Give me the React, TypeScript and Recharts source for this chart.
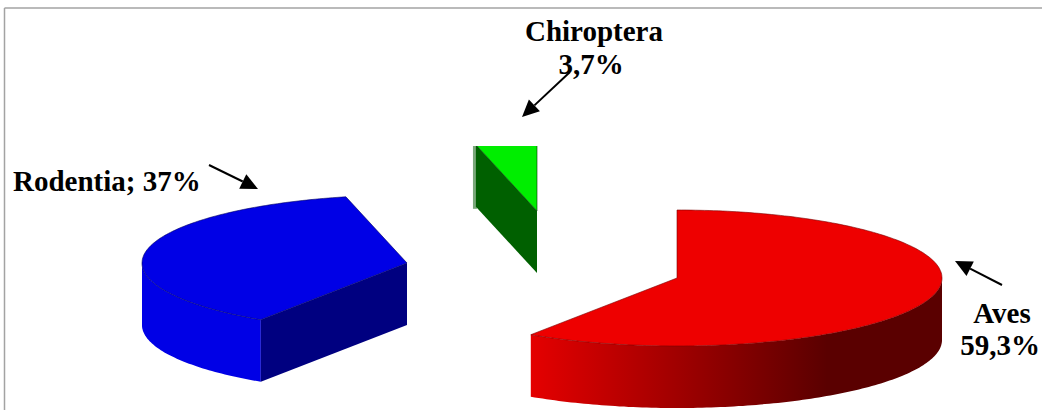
import React from "react";
import { PieChart, Pie } from "recharts";

const categories = ["Aves", "Rodentia", "Chiroptera"];
const values = [59.3, 37, 3.7];

// Exploded-slice offsets, from the common pie centre
const offsetX = [140, -130, 0];
const offsetY = [15, 0, -52];

const topColors = ["#ee0000", "#0000e6", "#00ee00"];
const wallColors = ["url(#avesWall)", "#0000e6", "#006000"];
const cutColors = ["#800000", "#000080", "#006000"];
const edgeColors = ["#7a0000", "#000060", "#003000"];

const rows = categories.map((name, i) => ({ name, value: values[i], index: i }));

const SQUASH = 68 / 265;
const DEPTH = 62;

const FONT = "'Liberation Serif', 'Times New Roman', serif";

const labelLines = [
  { text: "Rodentia; 37%", x: 13, y: 191, anchor: "start" },
  { text: "Chiroptera", x: 594, y: 41, anchor: "middle" },
  { text: "3,7%", x: 591, y: 74, anchor: "middle" },
  { text: "Aves", x: 1002, y: 323, anchor: "middle" },
  { text: "59,3%", x: 1000, y: 355, anchor: "middle" },
];

const arrows = [
  { x1: 209, y1: 165, x2: 258, y2: 189 },
  { x1: 570, y1: 72, x2: 522, y2: 117 },
  { x1: 1002, y1: 285, x2: 955, y2: 261 },
];

function ptsToPath(pts: number[][]) {
  return "M" + pts.map((p) => `${p[0].toFixed(1)},${p[1].toFixed(1)}`).join("L") + "Z";
}

function Slice3D(props: any) {
  const { cx, cy, outerRadius, startAngle, endAngle, payload } = props;
  const i: number = payload?.index ?? props.index ?? 0;
  const ox = cx + offsetX[i];
  const oy = cy + offsetY[i];
  const at = (deg: number, drop = 0) => {
    const a = (deg * Math.PI) / 180;
    return [ox + outerRadius * Math.cos(a), oy - outerRadius * SQUASH * Math.sin(a) + drop];
  };
  const n = Math.max(2, Math.ceil(Math.abs(endAngle - startAngle)));
  const samples: number[] = [];
  for (let k = 0; k <= n; k++) samples.push(startAngle + ((endAngle - startAngle) * k) / n);

  const top = [[ox, oy], ...samples.map((d) => at(d))];
  const front = samples.filter((d) => Math.sin((d * Math.PI) / 180) <= 0);
  const wall = front.length > 1
    ? [...front.map((d) => at(d)), ...front.slice().reverse().map((d) => at(d, DEPTH))]
    : null;

  const cutFaces: number[][][] = [];
  const cosOf = (d: number) => Math.cos((d * Math.PI) / 180);
  if (cosOf(startAngle) < -1e-6) {
    const p = at(startAngle);
    cutFaces.push([[ox, oy], p, [p[0], p[1] + DEPTH], [ox, oy + DEPTH]]);
  }
  if (cosOf(endAngle) > 1e-6) {
    const p = at(endAngle);
    cutFaces.push([[ox, oy], p, [p[0], p[1] + DEPTH], [ox, oy + DEPTH]]);
  }
  const startPt = at(startAngle);

  return (
    <g clipPath={i === 2 ? "url(#chiropteraClip)" : undefined}>
      {i === 2 && (
        <line
          x1={startPt[0] - 1}
          y1={startPt[1] + 1}
          x2={startPt[0] - 1}
          y2={startPt[1] + DEPTH + 2}
          stroke="#7aa87a"
          strokeWidth={4}
        />
      )}
      {wall && <path d={ptsToPath(wall)} fill={wallColors[i]} />}
      {cutFaces.map((f, k) => (
        <path key={k} d={ptsToPath(f)} fill={cutColors[i]} />
      ))}
      <path d={ptsToPath(top)} fill={topColors[i]} stroke={edgeColors[i]} strokeWidth={0.6} />
    </g>
  );
}

function Arrow({ x1, y1, x2, y2 }: { x1: number; y1: number; x2: number; y2: number }) {
  const len = Math.hypot(x2 - x1, y2 - y1);
  const ux = (x2 - x1) / len;
  const uy = (y2 - y1) / len;
  const bx = x2 - ux * 17;
  const by = y2 - uy * 17;
  const w = 8;
  const head = [
    [x2, y2],
    [bx - uy * w, by + ux * w],
    [bx + uy * w, by - ux * w],
  ];
  return (
    <g>
      <line x1={x1} y1={y1} x2={bx} y2={by} stroke="#000" strokeWidth={2} />
      <path d={ptsToPath(head)} fill="#000" />
    </g>
  );
}

export default function App() {
  return (
    <div style={{ position: "absolute", left: 0, top: 0, width: 1042, height: 410, background: "#fff" }}>
      <PieChart width={1042} height={410} margin={{ top: 0, right: 0, bottom: 0, left: 0 }}>
        <defs>
          <linearGradient id="avesWall" gradientUnits="userSpaceOnUse" x1={532} y1={0} x2={942} y2={0}>
            <stop offset="0" stopColor="#e40000" />
            <stop offset="0.72" stopColor="#5a0000" />
            <stop offset="1" stopColor="#5a0000" />
          </linearGradient>
          <clipPath id="chiropteraClip">
            <rect x={460} y={146} width={90} height={140} />
          </clipPath>
        </defs>
        <line x1={4.5} y1={8} x2={1042} y2={8} stroke="#a3a3a3" strokeWidth={1.5} />
        <line x1={4.5} y1={8} x2={4.5} y2={410} stroke="#a3a3a3" strokeWidth={1.5} />
        <Pie
          data={rows}
          dataKey="value"
          nameKey="name"
          cx={537}
          cy={263}
          innerRadius={0}
          outerRadius={265}
          startAngle={90}
          endAngle={-270}
          stroke="none"
          paddingAngle={0}
          labelLine={false}
          label={false}
          isAnimationActive={false}
          shape={Slice3D as any}
          activeShape={Slice3D as any}
          inactiveShape={Slice3D as any}
        />
        {arrows.map((a, i) => (
          <Arrow key={i} {...a} />
        ))}
        {labelLines.map((l, i) => (
          <text
            key={i}
            x={l.x}
            y={l.y}
            textAnchor={l.anchor as any}
            fontFamily={FONT}
            fontWeight="bold"
            fontSize={29}
            fill="#000"
          >
            {l.text}
          </text>
        ))}
      </PieChart>
    </div>
  );
}
